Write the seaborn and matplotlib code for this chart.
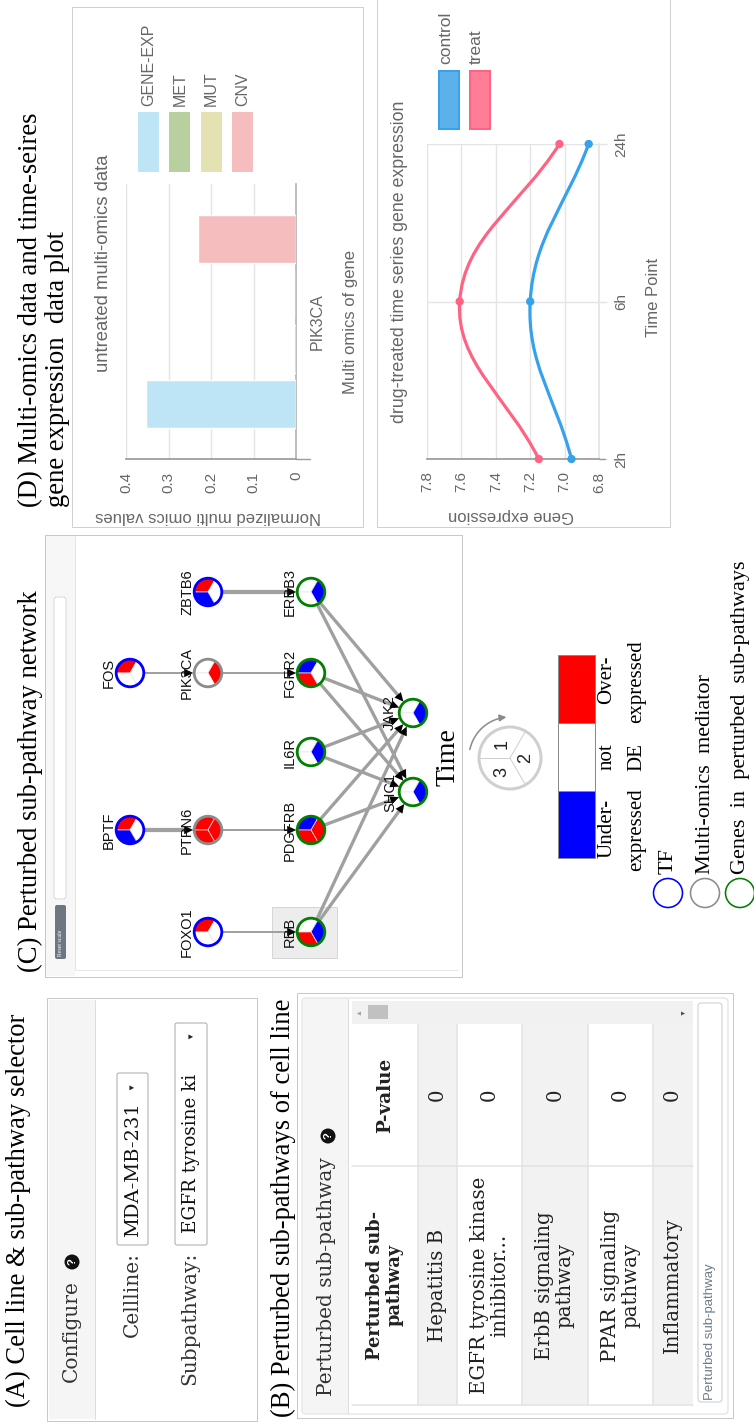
import numpy as np
import pandas as pd
import matplotlib
matplotlib.use("Agg")
import matplotlib.pyplot as plt
import seaborn as sns
from matplotlib.patches import Rectangle, Circle, Wedge, Polygon, FancyBboxPatch, FancyArrowPatch, PathPatch
from matplotlib.path import Path

# ------------------------------------------------------------------ data
omics_gene = "PIK3CA"
omics_types = ["GENE-EXP", "MET", "MUT", "CNV"]
omics_values = [0.353, 0.005, 0.0, 0.23]
omics_ticks = [0.4, 0.3, 0.2, 0.1, 0.0]
omics_tick_labels = ["0.4", "0.3", "0.2", "0.1", "0"]

time_points = ["2h", "6h", "24h"]
control_expr = [6.96, 7.20, 6.86]
treat_expr = [7.15, 7.61, 7.03]
expr_ticks = [7.8, 7.6, 7.4, 7.2, 7.0, 6.8]
expr_tick_labels = ["7.8", "7.6", "7.4", "7.2", "7.0", "6.8"]

cell_line = "MDA-MB-231"
subpathway = "EGFR tyrosine ki"
pathway_names = ["Hepatitis B", "EGFR tyrosine kinase\ninhibitor...",
                 "ErbB signaling\npathway", "PPAR signaling\npathway", "Inflammatory"]
pathway_pvalues = ["0", "0", "0", "0", "0"]

# expression state of each node at time points 1, 2, 3  (1 over, 0 not DE, -1 under)
node_states = {
    "FOXO1": [1, 0, 0], "BPTF": [1, 0, -1], "FOS": [1, 0, 0], "ZBTB6": [1, 0, -1],
    "PTPN6": [1, 1, 1], "PIK3CA": [0, 1, 0],
    "RBB": [0, -1, 1], "PDGFRB": [-1, 1, 1], "IL6R": [0, -1, 0],
    "FGFR2": [-1, 0, 1], "ERBB3": [0, -1, 0],
    "JAK2": [0, -1, 0], "SHC1": [0, -1, 0],
}
node_kind = {"FOXO1": "TF", "BPTF": "TF", "FOS": "TF", "ZBTB6": "TF",
             "PTPN6": "mediator", "PIK3CA": "mediator"}
edges = [("FOXO1", "RBB"), ("BPTF", "PTPN6"), ("PTPN6", "PDGFRB"), ("FOS", "PIK3CA"),
         ("PIK3CA", "FGFR2"), ("ZBTB6", "ERBB3"),
         ("RBB", "JAK2"), ("RBB", "SHC1"), ("PDGFRB", "JAK2"), ("PDGFRB", "SHC1"),
         ("IL6R", "JAK2"), ("IL6R", "SHC1"), ("FGFR2", "JAK2"), ("FGFR2", "SHC1"),
         ("ERBB3", "JAK2"), ("ERBB3", "SHC1")]

# ------------------------------------------------------------------ layout / style
W, H = 754, 1427
SANS = ["Liberation Sans", "DejaVu Sans"]
SERIF = ["Liberation Serif", "DejaVu Serif"]
UI = ["DejaVu Serif"]
GREY_TXT = "#666666"
C_BLUE, C_PINK = "#36a2eb", "#ff6384"
omics_colors = {"GENE-EXP": "#bde5f5", "MET": "#b8cf9f", "MUT": "#e4e2b3", "CNV": "#f6bdbf"}

layer_x = [130, 208, 311, 413]
node_layout = {"BPTF": (0, 830), "FOS": (0, 673),
               "FOXO1": (1, 932), "PTPN6": (1, 830), "PIK3CA": (1, 673), "ZBTB6": (1, 592),
               "RBB": (2, 932), "PDGFRB": (2, 830), "IL6R": (2, 752), "FGFR2": (2, 673),
               "ERBB3": (2, 592), "JAK2": (3, 713), "SHC1": (3, 792)}
edge_width_px = {("BPTF", "PTPN6"): 4.2, ("ZBTB6", "ERBB3"): 4.2}

sns.set_theme(style="white")
plt.rcParams["font.family"] = SANS

fig = plt.figure(figsize=(W / 100, H / 100), dpi=100)
bg = fig.add_axes([0, 0, 1, 1])
bg.set_xlim(0, W)
bg.set_ylim(H, 0)
bg.axis("off")

PX = 0.72  # points per pixel


def fbox(x0, y0, x1, y1):
    return [x0 / W, 1 - y1 / H, (x1 - x0) / W, (y1 - y0) / H]


def txt(x, y, s, size, rot=90, ha="left", va="center", family=None, color="#222222",
        weight="normal", **kw):
    return bg.text(x, y, s, fontsize=size, rotation=rot, rotation_mode="anchor", ha=ha,
                   va=va, family=family or SANS, color=color, fontweight=weight, **kw)


def rect(x0, y0, x1, y1, fc="white", ec="#cccccc", lw=1.0, z=1, **kw):
    p = Rectangle((x0, y0), x1 - x0, y1 - y0, facecolor=fc, edgecolor=ec, lw=lw * PX,
                  zorder=z, **kw)
    bg.add_patch(p)
    return p


def help_icon(x, y):
    bg.add_patch(Circle((x, y), 7.5, facecolor="#111111", edgecolor="none", zorder=4))
    txt(x, y, "?", 8, ha="center", va="center", color="white", weight="bold", zorder=5)


# ------------------------------------------------------------------ panel titles
TS = 19.2
txt(31, 507, "(D) Multi-omics data and time-seires", TS, family=SERIF, color="black")
txt(57, 507, "gene expression  data plot", TS, family=SERIF, color="black")
txt(30, 972, "(C) Perturbed sub-pathway network", TS, family=SERIF, color="black")
txt(18, 1407, "(A) Cell line & sub-pathway selector", TS, family=SERIF, color="black")
txt(283, 1417, "(B) Perturbed sub-pathways of cell line", TS, family=SERIF, color="black")

# ------------------------------------------------------------------ panel A: selector
US = 14.5
rect(47, 998, 257, 1421, ec="#c8c8c8")
rect(49, 1000, 95, 1419, fc="#f5f5f5", ec="none")
bg.plot([95, 95], [1000, 1419], color="#dddddd", lw=1 * PX, zorder=2)
txt(71, 1382, "Configure", US, family=UI, color="#333333")
help_icon(72, 1262)
txt(132, 1252, "Cellline:", US, ha="right", family=UI, color="#333333")
txt(190, 1252, "Subpathway:", US, ha="right", family=UI, color="#333333")
bg.add_patch(FancyBboxPatch((117, 1073), 31, 172, boxstyle="round,pad=0,rounding_size=2",
                            facecolor="white", edgecolor="#aaaaaa", lw=1 * PX, zorder=2))
bg.add_patch(FancyBboxPatch((175, 1023), 32, 222, boxstyle="round,pad=0,rounding_size=2",
                            facecolor="white", edgecolor="#aaaaaa", lw=1 * PX, zorder=2))
txt(133, 1237, cell_line, 14, family=UI, color="#111111", zorder=3)
txt(191, 1233, subpathway, 13.2, family=UI, color="#111111", zorder=3)
txt(132, 1086, "\u25bc", 6, ha="center", color="#222222", zorder=3)
txt(191, 1035, "\u25bc", 6, ha="center", color="#222222", zorder=3)

# ------------------------------------------------------------------ panel B: table
rect(297, 993, 733, 1418, ec="#c8c8c8")
bg.add_patch(FancyBboxPatch((302, 998), 426, 416, boxstyle="round,pad=0,rounding_size=4",
                            facecolor="white", edgecolor="#dddddd", lw=1 * PX, zorder=1))
rect(303, 999, 348, 1413, fc="#f5f5f5", ec="none", z=1)
bg.plot([348, 348], [999, 1413], color="#dddddd", lw=1 * PX, zorder=2)
txt(326, 1396, "Perturbed sub-pathway", US, family=UI, color="#333333")
help_icon(328, 1136)

# scroll strip
rect(352, 1001, 693, 1024, fc="#f1f1f1", ec="none", z=2)
rect(368, 1005, 388, 1019, fc="#c1c1c1", ec="none", z=3)
txt(359, 1012, "\u25b2", 5, ha="center", color="#a3a3a3", zorder=3)
txt(683, 1012, "\u25bc", 5, ha="center", color="#505050", zorder=3)

row_edges = [352, 418, 457, 522, 588, 653, 693]
col_split = 1166
for i in range(len(row_edges) - 1):
    fc = "#f2f2f2" if i % 2 == 1 else "white"
    rect(row_edges[i], 1024, row_edges[i + 1], 1405, fc=fc, ec="none", z=2)
for xe in row_edges[1:-1]:
    bg.plot([xe, xe], [1024, 1405], color="#e2e2e2", lw=1.5 * PX, zorder=3)
bg.plot([row_edges[0], row_edges[-1]], [col_split, col_split], color="#e2e2e2", lw=1.5 * PX, zorder=3)
bg.plot([row_edges[0], row_edges[-1]], [1405, 1405], color="#e2e2e2", lw=1.5 * PX, zorder=3)
name_y = (col_split + 1405) / 2
val_y = (1024 + col_split) / 2
TB = 14.2
txt((row_edges[0] + row_edges[1]) / 2, name_y, "Perturbed sub-\npathway", 12.8, ha="center",
    family=UI, weight="bold", color="#222222", multialignment="center", zorder=4,
    linespacing=1.15)
txt((row_edges[0] + row_edges[1]) / 2, val_y, "P-value", 13.3, ha="center", family=UI,
    weight="bold", color="#222222", zorder=4)
for i, (nm, pv) in enumerate(zip(pathway_names, pathway_pvalues)):
    xc = (row_edges[i + 1] + row_edges[i + 2]) / 2
    if i == len(pathway_names) - 1:
        xc = row_edges[i + 1] + 19
    txt(xc, name_y, nm, TB, ha="center", family=UI, color="#222222",
        multialignment="center", zorder=4, linespacing=1.1)
    txt(xc, val_y, pv, TB, ha="center", family=UI, color="#222222", zorder=4)
bg.add_patch(FancyBboxPatch((698, 1003), 24, 399, boxstyle="round,pad=0,rounding_size=3",
                            facecolor="white", edgecolor="#cccccc", lw=1 * PX, zorder=2))
txt(710, 1400, "Perturbed sub-pathway", 9.5, color="#6b7b8c", zorder=3)

# ------------------------------------------------------------------ panel C: network
rect(45, 535, 462, 977, ec="#c8c8c8")
rect(46, 536, 75, 976, fc="#f7f7f7", ec="none", z=1)
bg.plot([75, 75], [536, 970], color="#e3e3e3", lw=1 * PX, zorder=2)
bg.plot([75, 458], [970, 970], color="#e8e8e8", lw=1 * PX, zorder=2)
bg.add_patch(FancyBboxPatch((54, 597), 12, 302, boxstyle="round,pad=0,rounding_size=3",
                            facecolor="white", edgecolor="#d8d8d8", lw=1 * PX, zorder=2))
bg.add_patch(FancyBboxPatch((55, 905), 11, 54, boxstyle="round,pad=0,rounding_size=2",
                            facecolor="#6d7784", edgecolor="none", zorder=2))
txt(60.5, 956, "Reset scale", 4.2, family=SERIF, color="white", zorder=3)
# selected node highlight
rect(272, 907, 337, 958, fc="#ededed", ec="#d6d6d6", z=2)

R = 13.8
state_color = {1: "#ff0000", 0: "#ffffff", -1: "#0000ff"}
ring_color = {"TF": "#0000ff", "mediator": "#8c8c8c", "gene": "#008000"}
sector_vis = [(60, 180), (-60, 60), (180, 300)]


def node_xy(name):
    layer, y = node_layout[name]
    return np.array([layer_x[layer], y], dtype=float)


for a, b in edges:
    pa, pb = node_xy(a), node_xy(b)
    u = (pb - pa) / np.hypot(*(pb - pa))
    tip = pb - u * (R + 1.0)
    wpx = edge_width_px.get((a, b), 3.3 if b in ("JAK2", "SHC1") else 2.0)
    bg.plot([pa[0], tip[0] - u[0] * 4], [pa[1], tip[1] - u[1] * 4], color="#a0a0a0",
            lw=wpx * PX, zorder=3, solid_capstyle="butt")
    nrm = np.array([-u[1], u[0]])
    base = tip - u * 9
    bg.add_patch(Polygon([tip, base + nrm * 4.2, base - nrm * 4.2], closed=True,
                         facecolor="black", edgecolor="none", zorder=8))

for name in node_layout:
    c = node_xy(name)
    kind = node_kind.get(name, "gene")
    for k, s in enumerate(node_states[name]):
        a0, a1 = sector_vis[k]
        bg.add_patch(Wedge(tuple(c), R, -a1, -a0, facecolor=state_color[s], edgecolor="#e6e6e6",
                           lw=0.5, zorder=5))
    bg.add_patch(Circle(tuple(c), R, facecolor="none", edgecolor=ring_color[kind],
                        lw=2.8 * PX, zorder=6))
    off = 23 if name in ("JAK2", "SHC1") else 21
    txt(c[0] - off, c[1], name, 10.5, ha="center", color="#111111", zorder=9)

# legend of panel C
txt(448, 757, "Time", 20, ha="center", family=SERIF, color="black")
lc = np.array([510.0, 758.0])
bg.add_patch(Circle(tuple(lc), 31, facecolor="white", edgecolor="#cfcfcf", lw=3 * PX, zorder=3))
for ang in (180, 60, -60):
    d = np.array([np.cos(np.radians(ang)), -np.sin(np.radians(ang))])
    bg.plot([lc[0], lc[0] + d[0] * 30], [lc[1], lc[1] + d[1] * 30], color="#cfcfcf",
            lw=1 * PX, zorder=4)
for lab, ang in (("1", 120), ("2", 0), ("3", 240)):
    d = np.array([np.cos(np.radians(ang)), -np.sin(np.radians(ang))])
    txt(lc[0] + d[0] * 16, lc[1] + d[1] * 16, lab, 13, ha="center", family=SANS,
        color="#222222", zorder=5)
arc_ang = np.radians(np.linspace(168, 95, 30))
arc_pts = np.column_stack([lc[0] + 41 * np.cos(arc_ang), lc[1] - 41 * np.sin(arc_ang)])
bg.add_patch(FancyArrowPatch(path=Path(arc_pts), arrowstyle="-|>,head_length=4,head_width=2",
                             color="#8a8a8a", lw=1.1, zorder=4))

rect(558, 791, 595, 858, fc="#0000ff", ec="#8a8a8a", z=3)
rect(558, 723, 595, 791, fc="#ffffff", ec="#8a8a8a", z=3)
rect(558, 655, 595, 723, fc="#ff0000", ec="#8a8a8a", z=3)
LS = 15
txt(607, 858, "Under-", LS, family=SERIF, color="black")
txt(607, 757, "not", LS, ha="center", family=SERIF, color="black")
txt(607, 655, "Over-", LS, ha="right", family=SERIF, color="black")
txt(637, 871, "expressed", LS, family=SERIF, color="black")
txt(637, 757, "DE", LS, ha="center", family=SERIF, color="black")
txt(637, 640, "expressed", LS, ha="right", family=SERIF, color="black")
for xk, kind, lab in ((668, "TF", "TF"), (705, "mediator", "Multi-omics  mediator"),
                      (740, "gene", "Genes  in  perturbed  sub-pathways")):
    bg.add_patch(Circle((xk, 893), 14.5, facecolor="white", edgecolor=ring_color[kind],
                        lw=1.6 * PX, zorder=3))
    txt(xk, 874, lab, 16, family=SERIF, color="black")

# ------------------------------------------------------------------ panel D: bar chart
rect(72, 7, 363, 527, ec="#d0d0d0")
ax1 = fig.add_axes(fbox(126, 184, 296, 459))
ax1.patch.set_alpha(0)
df_omics = pd.DataFrame({"gene": [omics_gene] * len(omics_types), "omics": omics_types,
                         "value": omics_values})
sns.barplot(data=df_omics, x="value", y="gene", hue="omics", hue_order=omics_types,
            palette=omics_colors, orient="h", gap=0.11, saturation=1, legend=False,
            ax=ax1, zorder=3)
ax1.set_xlim(0.4, 0)
ax1.set_ylim(-0.5, 0.5)
ax1.set_xticks(omics_ticks)
ax1.set_xticklabels(omics_tick_labels, rotation=90)
ax1.yaxis.tick_right()
ax1.set_yticks([0])
ax1.set_yticklabels([omics_gene], rotation=90, va="center")
ax1.tick_params(axis="x", length=0, pad=9, labelsize=11, labelcolor=GREY_TXT)
ax1.tick_params(axis="y", length=0, pad=10, labelsize=11.5, labelcolor=GREY_TXT)
ax1.grid(axis="x", color="#e4e4e4", lw=1)
ax1.set_axisbelow(True)
ax1.set_xlabel("")
ax1.set_ylabel("")
for side in ("top", "left"):
    ax1.spines[side].set_visible(False)
ax1.spines["right"].set_color("#b5b5b5")
ax1.spines["bottom"].set_color("#9a9a9a")
ax1.plot([0, -0.033], [-0.5, -0.5], color="#9a9a9a", lw=1, clip_on=False)
txt(103, 263, "untreated multi-omics data", 13.3, ha="center", color=GREY_TXT)
txt(208, 517, "Normalized multi omics values", 12, rot=180, ha="center", color=GREY_TXT)
txt(350, 322, "Multi omics of gene", 12, ha="center", color=GREY_TXT)
for k, name in enumerate(omics_types):
    xc = 148.5 + 31.3 * k
    rect(xc - 10.5, 112, xc + 10.5, 172, fc=omics_colors[name], ec="none", z=2)
    txt(xc, 106, name, 11.5, color=GREY_TXT)

# ------------------------------------------------------------------ panel D: time series
rect(377, -2, 670, 527, ec="#d0d0d0")
ax2 = fig.add_axes(fbox(427, 144, 599, 459))
ax2.patch.set_alpha(0)
ax2.set_xlim(7.8, 6.8)
ax2.set_ylim(0, 2)
tidx = np.arange(len(time_points))


def spline_path(ax, xs, ys, tension=0.4):
    pts = ax.transData.transform(np.column_stack([xs, ys]))
    n = len(pts)
    cps = []
    for i in range(n):
        prev = pts[i - 1] if i > 0 else pts[i]
        nxt = pts[i + 1] if i < n - 1 else pts[i]
        d01 = np.hypot(*(pts[i] - prev))
        d12 = np.hypot(*(nxt - pts[i]))
        tot = d01 + d12
        s01, s12 = (d01 / tot, d12 / tot) if tot else (0, 0)
        cps.append((pts[i] - tension * s01 * (nxt - prev), pts[i] + tension * s12 * (nxt - prev)))
    verts = [pts[0]]
    codes = [Path.MOVETO]
    for i in range(n - 1):
        verts += [cps[i][1], cps[i + 1][0], pts[i + 1]]
        codes += [Path.CURVE4] * 3
    return Path(ax.transData.inverted().transform(np.array(verts)), codes)


for vals, col in ((control_expr, C_BLUE), (treat_expr, C_PINK)):
    ax2.add_patch(PathPatch(spline_path(ax2, vals, tidx), fill=False, edgecolor=col,
                            lw=3.2 * PX, capstyle="round", zorder=3))
df_ts = pd.DataFrame({"expression": control_expr + treat_expr,
                      "t": list(tidx) * 2,
                      "group": ["control"] * 3 + ["treat"] * 3})
sns.scatterplot(data=df_ts, x="expression", y="t", hue="group",
                palette={"control": C_BLUE, "treat": C_PINK}, s=36, linewidth=0,
                legend=False, ax=ax2, zorder=4, clip_on=False)
ax2.set_xlim(7.8, 6.8)
ax2.set_ylim(0, 2)
ax2.set_xticks(expr_ticks)
ax2.set_xticklabels(expr_tick_labels, rotation=90)
ax2.yaxis.tick_right()
ax2.set_yticks(tidx)
ax2.set_yticklabels(time_points, rotation=90, va="center")
ax2.tick_params(axis="x", length=0, pad=9, labelsize=11, labelcolor=GREY_TXT)
ax2.tick_params(axis="y", length=6, width=1, color="#e4e4e4", pad=5, labelsize=11,
                labelcolor=GREY_TXT)
ax2.grid(True, color="#e4e4e4", lw=1)
ax2.set_axisbelow(True)
ax2.set_xlabel("")
ax2.set_ylabel("")
for side in ("top", "left"):
    ax2.spines[side].set_visible(False)
ax2.spines["right"].set_color("#e4e4e4")
ax2.spines["bottom"].set_color("#9a9a9a")
ax2.plot([6.8, 6.765], [0, 0], color="#9a9a9a", lw=1, clip_on=False)
txt(400, 262, "drug-treated time series gene expression", 12.8, ha="center", color=GREY_TXT)
txt(511, 516, "Gene expression", 12, rot=180, ha="center", color=GREY_TXT)
txt(653, 297, "Time Point", 12, ha="center", color=GREY_TXT)
for xc, col, fc, lab in ((448.5, C_BLUE, "#5db1ea", "control"), (479.5, C_PINK, "#ff7d96", "treat")):
    rect(xc - 10, 71, xc + 10, 129, fc=fc, ec=col, lw=2, z=2)
    txt(xc - 3, 64, lab, 12.5, color=GREY_TXT)

fig.savefig("out.png", dpi=100)
